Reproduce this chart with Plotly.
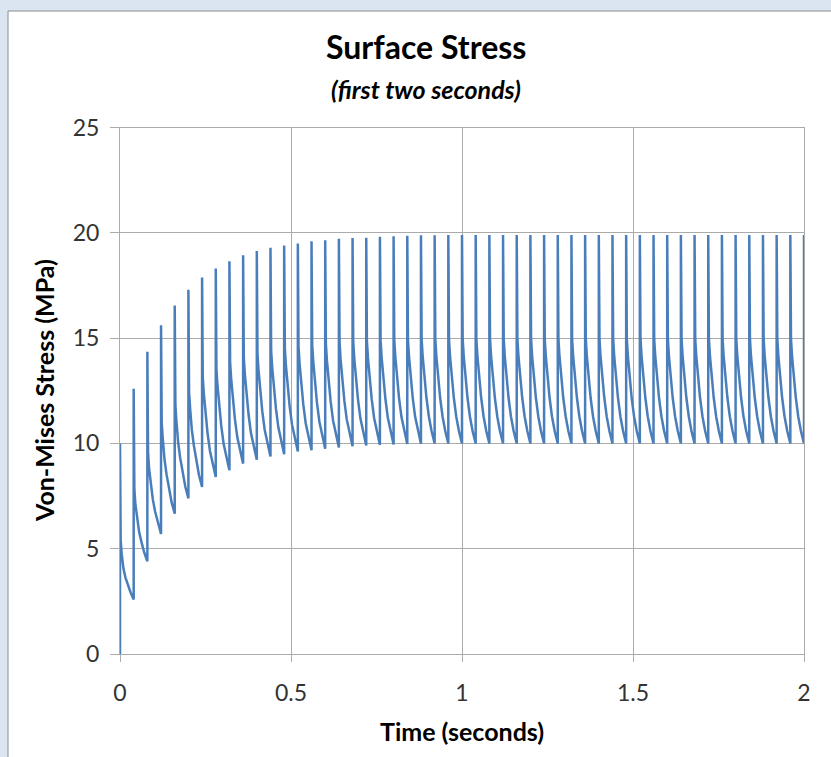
import plotly.graph_objects as go

# ---- data ----
period = 0.04                      # seconds between load pulses
offsets = [0.0, 0.002, 0.005, 0.010, 0.016, 0.023, 0.031]   # sample times inside a cycle

# value just before each pulse (t = k*period), k = 0..50
troughs = [0.00, 2.59, 4.40, 5.70, 6.66, 7.39, 7.93, 8.41, 8.73, 9.04,
           9.22, 9.38, 9.49, 9.62, 9.68, 9.75, 9.81, 9.86, 9.90, 9.93,
           9.95, 9.97, 9.98, 10.00, 10.00, 10.00, 10.00, 10.00, 10.00, 10.00,
           10.00, 10.00, 10.00, 10.00, 10.00, 10.00, 10.00, 10.00, 10.00, 10.00,
           10.00, 10.00, 10.00, 10.00, 10.00, 10.00, 10.00, 10.00, 10.00, 10.00,
           10.00]

# values at the sample offsets for each cycle (peak first), k = 0..49
cycle_values = [
    [10.00, 5.41, 4.74, 4.07, 3.63, 3.26, 2.92],
    [12.60, 7.84, 7.11, 6.37, 5.79, 5.30, 4.81],
    [14.35, 9.59, 8.81, 8.04, 7.34, 6.74, 6.18],
    [15.61, 10.96, 10.24, 9.26, 8.54, 7.82, 7.20],
    [16.55, 11.79, 11.05, 10.05, 9.31, 8.58, 7.94],
    [17.30, 12.43, 11.68, 10.65, 9.90, 9.15, 8.49],
    [17.88, 13.15, 12.39, 11.35, 10.49, 9.64, 8.98],
    [18.30, 13.52, 12.75, 11.70, 10.84, 9.97, 9.30],
    [18.65, 13.85, 13.08, 12.02, 11.15, 10.29, 9.62],
    [18.93, 14.08, 13.30, 12.23, 11.36, 10.48, 9.80],
    [19.13, 14.26, 13.48, 12.40, 11.53, 10.65, 9.97],
    [19.29, 14.39, 13.61, 12.53, 11.65, 10.76, 10.08],
    [19.40, 14.51, 13.73, 12.65, 11.77, 10.89, 10.21],
    [19.49, 14.59, 13.80, 12.72, 11.84, 10.96, 10.27],
    [19.60, 14.68, 13.89, 12.80, 11.92, 11.03, 10.34],
    [19.65, 14.73, 13.94, 12.86, 11.98, 11.09, 10.40],
    [19.72, 14.79, 14.00, 12.92, 12.03, 11.14, 10.45],
    [19.75, 14.83, 14.04, 12.95, 12.07, 11.18, 10.49],
    [19.77, 14.85, 14.06, 12.98, 12.10, 11.21, 10.52],
    [19.81, 14.88, 14.09, 13.01, 12.12, 11.23, 10.54],
    [19.84, 14.91, 14.12, 13.03, 12.14, 11.25, 10.56],
    [19.86, 14.92, 14.13, 13.04, 12.15, 11.26, 10.57],
    [19.88, 14.94, 14.15, 13.06, 12.18, 11.29, 10.59],
    [19.88, 14.94, 14.15, 13.06, 12.18, 11.29, 10.59],
    [19.89, 14.95, 14.15, 13.07, 12.18, 11.29, 10.59],
    [19.90, 14.95, 14.16, 13.07, 12.18, 11.29, 10.59],
    [19.90, 14.95, 14.16, 13.07, 12.18, 11.29, 10.59],
    [19.90, 14.95, 14.16, 13.07, 12.18, 11.29, 10.59],
    [19.90, 14.95, 14.16, 13.07, 12.18, 11.29, 10.59],
    [19.90, 14.95, 14.16, 13.07, 12.18, 11.29, 10.59],
    [19.90, 14.95, 14.16, 13.07, 12.18, 11.29, 10.59],
    [19.90, 14.95, 14.16, 13.07, 12.18, 11.29, 10.59],
    [19.90, 14.95, 14.16, 13.07, 12.18, 11.29, 10.59],
    [19.90, 14.95, 14.16, 13.07, 12.18, 11.29, 10.59],
    [19.90, 14.95, 14.16, 13.07, 12.18, 11.29, 10.59],
    [19.90, 14.95, 14.16, 13.07, 12.18, 11.29, 10.59],
    [19.90, 14.95, 14.16, 13.07, 12.18, 11.29, 10.59],
    [19.90, 14.95, 14.16, 13.07, 12.18, 11.29, 10.59],
    [19.90, 14.95, 14.16, 13.07, 12.18, 11.29, 10.59],
    [19.90, 14.95, 14.16, 13.07, 12.18, 11.29, 10.59],
    [19.90, 14.95, 14.16, 13.07, 12.18, 11.29, 10.59],
    [19.90, 14.95, 14.16, 13.07, 12.18, 11.29, 10.59],
    [19.90, 14.95, 14.16, 13.07, 12.18, 11.29, 10.59],
    [19.90, 14.95, 14.16, 13.07, 12.18, 11.29, 10.59],
    [19.90, 14.95, 14.16, 13.07, 12.18, 11.29, 10.59],
    [19.90, 14.95, 14.16, 13.07, 12.18, 11.29, 10.59],
    [19.90, 14.95, 14.16, 13.07, 12.18, 11.29, 10.59],
    [19.90, 14.95, 14.16, 13.07, 12.18, 11.29, 10.59],
    [19.90, 14.95, 14.16, 13.07, 12.18, 11.29, 10.59],
    [19.90, 14.95, 14.16, 13.07, 12.18, 11.29, 10.59],
]
final_peak = 19.90                  # pulse at t = 2.0 s

x_ticks = [0, 0.5, 1, 1.5, 2]
x_tick_labels = ["0", "0.5", "1", "1.5", "2"]
y_ticks = [0, 5, 10, 15, 20, 25]
y_tick_labels = ["0", "5", "10", "15", "20", "25"]

# ---- assemble series ----
t, v = [], []
for k, row in enumerate(cycle_values):
    t0 = k * period
    t.append(t0); v.append(troughs[k])
    for off, val in zip(offsets, row):
        t.append(t0 + off); v.append(val)
t_end = len(cycle_values) * period
t.append(t_end); v.append(troughs[-1])
t.append(t_end); v.append(final_peak)

W, H = 831, 757
FONT = "Lato, 'Open Sans', sans-serif"

fig = go.Figure()
fig.add_trace(go.Scatter(x=t, y=v, mode="lines",
                         line=dict(color="#4a7ebb", width=2.5),
                         hoverinfo="x+y", showlegend=False))

def px_x(p):
    return p / W

def px_y(p):
    return 1 - p / H

grid = "#ababab"
fig.update_layout(
    width=W, height=H,
    margin=dict(l=0, r=0, t=0, b=0, pad=0),
    paper_bgcolor="#dbe5f1",
    plot_bgcolor="white",
    showlegend=False,
    xaxis=dict(domain=[px_x(120), px_x(804)], range=[0, 2],
               automargin=False,
               tickvals=x_ticks, ticktext=x_tick_labels,
               showgrid=True, gridcolor=grid, gridwidth=1,
               zeroline=False, showline=True, linecolor=grid, mirror=True,
               ticks="outside", ticklen=7, tickcolor=grid,
               ticklabelstandoff=11,
               tickfont=dict(family=FONT, size=23, color="#333333")),
    yaxis=dict(domain=[px_y(654), px_y(127.5)], range=[0, 25],
               automargin=False,
               tickvals=y_ticks, ticktext=y_tick_labels,
               showgrid=True, gridcolor=grid, gridwidth=1,
               zeroline=False, showline=True, linecolor=grid, mirror=True,
               ticks="outside", ticklen=9, tickcolor=grid,
               ticklabelstandoff=6,
               tickfont=dict(family=FONT, size=23, color="#333333")),
    shapes=[dict(type="rect", xref="paper", yref="paper",
                 x0=px_x(8), x1=1.05, y0=-0.05, y1=px_y(11),
                 fillcolor="white", line=dict(color="#8c8c8c", width=1),
                 layer="below")],
    annotations=[
        dict(text="<b>Surface Stress</b>", xref="paper", yref="paper",
             x=px_x(426), y=px_y(47), xanchor="center", yanchor="middle",
             showarrow=False, font=dict(family=FONT, size=32, color="#000000")),
        dict(text="<b><i>(first two seconds)</i></b>", xref="paper", yref="paper",
             x=px_x(426), y=px_y(89), xanchor="center", yanchor="middle",
             showarrow=False, font=dict(family=FONT, size=25, color="#000000")),
        dict(text="<b>Von-Mises Stress (MPa)</b>", xref="paper", yref="paper",
             x=px_x(44), y=px_y(391), xanchor="center", yanchor="middle",
             textangle=-90, showarrow=False,
             font=dict(family=FONT, size=25, color="#000000")),
        dict(text="<b>Time (seconds)</b>", xref="paper", yref="paper",
             x=px_x(462), y=px_y(731), xanchor="center", yanchor="middle",
             showarrow=False, font=dict(family=FONT, size=25, color="#000000")),
    ],
)

fig.write_html("out.html")
